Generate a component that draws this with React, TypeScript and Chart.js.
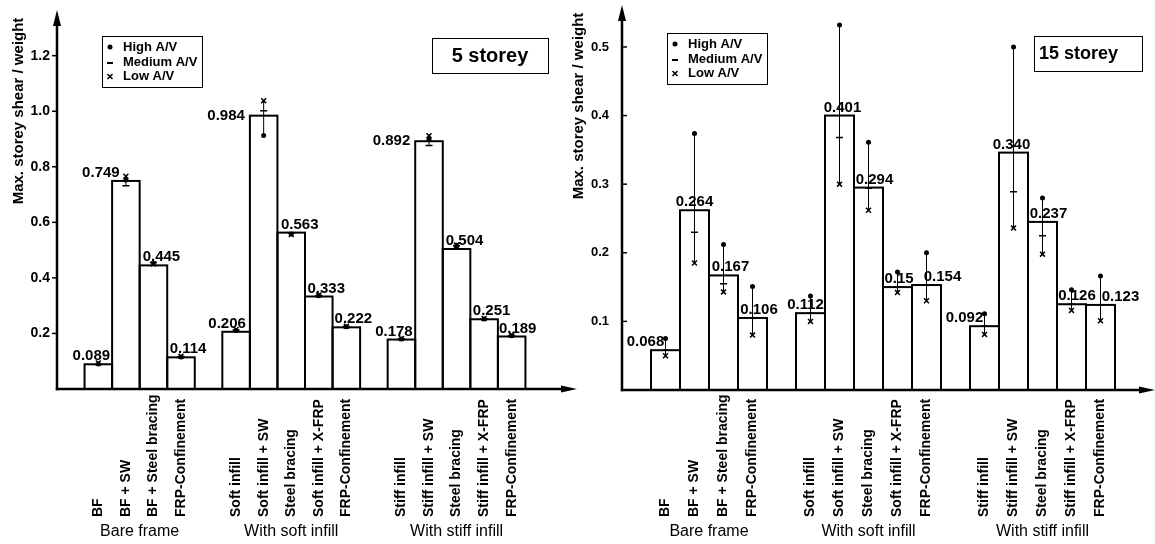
import React, { useEffect, useRef } from 'react';
import { Chart, registerables } from 'chart.js';

Chart.register(...registerables);
Chart.defaults.font.family = '"Liberation Sans", Arial, sans-serif';

// ---------- shared categories ----------
const GROUP_NAMES = ['Bare frame', 'With soft infill', 'With stiff infill'];
const CATEGORIES = [
  ['BF', 'BF + SW', 'BF + Steel bracing', 'FRP-Confinement'],
  ['Soft infill', 'Soft infill + SW', 'Steel bracing', 'Soft infill + X-FRP', 'FRP-Confinement'],
  ['Stiff infill', 'Stiff infill + SW', 'Steel bracing', 'Stiff infill + X-FRP', 'FRP-Confinement'],
];
const LEGEND_ITEMS = ['High A/V', 'Medium A/V', 'Low A/V'];
const Y_TITLE = 'Max. storey shear / weight';

// ---------- 5 storey ----------
const SHEAR_5 = [0.089, 0.749, 0.445, 0.114, 0.206, 0.984, 0.563, 0.333, 0.222, 0.178, 0.892, 0.504, 0.251, 0.189];
const TEXT_5 = ['0.089', '0.749', '0.445', '0.114', '0.206', '0.984', '0.563', '0.333', '0.222', '0.178', '0.892', '0.504', '0.251', '0.189'];
const HIGH_5 = [0.090, 0.752, 0.452, 0.115, 0.211, 0.913, 0.558, 0.336, 0.224, 0.180, 0.898, 0.515, 0.252, 0.192];
const MEDIUM_5 = [0.088, 0.732, 0.455, 0.117, 0.212, 1.002, 0.561, 0.337, 0.225, 0.181, 0.877, 0.516, 0.253, 0.193];
const LOW_5 = [0.094, 0.766, 0.450, 0.118, 0.214, 1.038, 0.556, 0.338, 0.226, 0.182, 0.912, 0.518, 0.254, 0.194];
const TICKS_5 = [0.2, 0.4, 0.6, 0.8, 1.0, 1.2];

// ---------- 15 storey ----------
const SHEAR_15 = [0.058, 0.262, 0.167, 0.105, 0.112, 0.400, 0.295, 0.150, 0.153, 0.093, 0.346, 0.245, 0.125, 0.124];
const TEXT_15 = ['0.068', '0.264', '0.167', '0.106', '0.112', '0.401', '0.294', '0.15', '0.154', '0.092', '0.340', '0.237', '0.126', '0.123'];
const HIGH_15 = [0.075, 0.374, 0.212, 0.151, 0.137, 0.532, 0.361, 0.172, 0.200, 0.111, 0.500, 0.280, 0.146, 0.166];
const MEDIUM_15 = [0.058, 0.230, 0.155, 0.105, 0.112, 0.368, 0.294, 0.150, 0.153, 0.093, 0.289, 0.225, 0.125, 0.124];
const LOW_15 = [0.050, 0.185, 0.143, 0.080, 0.100, 0.300, 0.262, 0.142, 0.130, 0.081, 0.236, 0.198, 0.116, 0.101];
const TICKS_15 = [0.1, 0.2, 0.3, 0.4, 0.5];

// ---------- label placement (style) ----------
const LABEL_DX_5 = [-7, -25, 8, 7, -9, 0, 8.5, 7.5, 7, -7.5, 0, 8, 7.5, 6];
const LABEL_SIDE_5 = [5, 10];
const LABEL_DX_15 = [-20, 0, 7, 6.5, -5, 3, 6, 1.5, 16, -20, -2, 6, 5.5, 20];
const LABEL_SIDE_15: number[] = [];

function toSlots<T>(vals: T[], blank: T): T[] {
  const out: T[] = [blank];
  let k = 0;
  CATEGORIES.forEach((g) => {
    g.forEach(() => out.push(vals[k++]));
    out.push(blank);
  });
  return out;
}

function slotIndexOf(i: number): number {
  let k = 0;
  let s = 1;
  for (const g of CATEGORIES) {
    for (let j = 0; j < g.length; j++) {
      if (k === i) return s;
      k++;
      s++;
    }
    s++;
  }
  return -1;
}

type Spec = {
  values: number[];
  texts: string[];
  high: number[];
  medium: number[];
  low: number[];
  ticks: number[];
  yMax: number;
  labelDx: number[];
  labelSide: number[];
  axisWidth: number;
  padTop: number;
  padRight: number;
  xHeight: number;
  tickPad: number;
  tickFont: number;
  tickDir: number;
  arrowTop: number;
  arrowRight: number;
  storey: { text: string; x: number; y: number; w: number; h: number; font: number; align: 'center' | 'left' };
  legendY: number;
  titleY: number;
};

function makeDecor(spec: Spec) {
  const flatLabels = CATEGORIES.flat();
  return {
    id: 'decor',
    afterDatasetDraw(chart: any, args: any) {
      if (args.index !== 0) return;
      const ctx = chart.ctx;
      const ys = chart.scales.y;
      const meta = chart.getDatasetMeta(0);
      ctx.save();
      ctx.strokeStyle = '#000';
      ctx.lineWidth = 2;
      spec.values.forEach((_v, i) => {
        const el = meta.data[slotIndexOf(i)];
        const p = el.getProps(['x', 'y', 'base', 'width'], true);
        ctx.strokeRect(p.x - p.width / 2, p.y, p.width, p.base - p.y);
      });
      ctx.lineWidth = 1;
      spec.values.forEach((_v, i) => {
        const el = meta.data[slotIndexOf(i)];
        const vals = [spec.high[i], spec.medium[i], spec.low[i]];
        const lo = Math.min(...vals);
        const hi = Math.max(...vals);
        ctx.beginPath();
        ctx.moveTo(el.x, ys.getPixelForValue(lo));
        ctx.lineTo(el.x, ys.getPixelForValue(hi));
        ctx.stroke();
      });
      ctx.restore();
    },
    afterDraw(chart: any) {
      const ctx = chart.ctx;
      const a = chart.chartArea;
      const xs = chart.scales.x;
      const ys = chart.scales.y;
      const meta = chart.getDatasetMeta(0);
      const ax = a.left;
      const ay = a.bottom;
      ctx.save();
      ctx.fillStyle = '#000';
      ctx.strokeStyle = '#000';

      // axes with arrows
      ctx.lineWidth = 2.5;
      ctx.beginPath();
      ctx.moveTo(ax, ay + 1.2);
      ctx.lineTo(ax, spec.arrowTop + 12);
      ctx.stroke();
      ctx.beginPath();
      ctx.moveTo(ax, spec.arrowTop);
      ctx.lineTo(ax - 4, spec.arrowTop + 16);
      ctx.lineTo(ax + 4, spec.arrowTop + 16);
      ctx.closePath();
      ctx.fill();
      ctx.beginPath();
      ctx.moveTo(ax - 1.2, ay);
      ctx.lineTo(spec.arrowRight - 12, ay);
      ctx.stroke();
      ctx.beginPath();
      ctx.moveTo(spec.arrowRight, ay);
      ctx.lineTo(spec.arrowRight - 16, ay - 3.5);
      ctx.lineTo(spec.arrowRight - 16, ay + 3.5);
      ctx.closePath();
      ctx.fill();

      // y ticks
      ctx.lineWidth = 1.5;
      spec.ticks.forEach((t) => {
        const py = ys.getPixelForValue(t);
        ctx.beginPath();
        ctx.moveTo(ax, py);
        ctx.lineTo(ax + spec.tickDir * 5, py);
        ctx.stroke();
      });

      // y title
      ctx.save();
      ctx.translate(19, spec.titleY);
      ctx.rotate(-Math.PI / 2);
      ctx.font = 'bold 15px "Liberation Sans", Arial, sans-serif';
      ctx.textAlign = 'center';
      ctx.textBaseline = 'middle';
      ctx.fillText(Y_TITLE, 0, 0);
      ctx.restore();

      // category labels (vertical)
      ctx.font = 'bold 14px "Liberation Sans", Arial, sans-serif';
      flatLabels.forEach((lab, i) => {
        const px = xs.getPixelForValue(slotIndexOf(i));
        ctx.save();
        ctx.translate(px, 517);
        ctx.rotate(-Math.PI / 2);
        ctx.textAlign = 'left';
        ctx.textBaseline = 'middle';
        ctx.fillText(lab, 0, 0);
        ctx.restore();
      });

      // group labels
      ctx.font = '16px "Liberation Sans", Arial, sans-serif';
      ctx.textAlign = 'center';
      ctx.textBaseline = 'alphabetic';
      let k = 0;
      CATEGORIES.forEach((g, gi) => {
        const x0 = xs.getPixelForValue(slotIndexOf(k));
        const x1 = xs.getPixelForValue(slotIndexOf(k + g.length - 1));
        ctx.fillText(GROUP_NAMES[gi], (x0 + x1) / 2, 536);
        k += g.length;
      });

      // value labels
      ctx.font = 'bold 15px "Liberation Sans", Arial, sans-serif';
      spec.values.forEach((_v, i) => {
        const el = meta.data[slotIndexOf(i)];
        const p = el.getProps(['x', 'y', 'width'], true);
        if (spec.labelSide.includes(i)) {
          ctx.textAlign = 'right';
          ctx.textBaseline = 'middle';
          ctx.fillText(spec.texts[i], p.x - p.width / 2 - 5, p.y);
        } else {
          ctx.textAlign = 'center';
          ctx.textBaseline = 'alphabetic';
          ctx.fillText(spec.texts[i], p.x + spec.labelDx[i], p.y - 4);
        }
      });

      // legend box
      const bx = ax + 45;
      const by = spec.legendY;
      ctx.lineWidth = 1;
      ctx.strokeRect(bx + 0.5, by + 0.5, 100, 51);
      const rows = [by + 11, by + 26, by + 40.5];
      ctx.font = 'bold 13px "Liberation Sans", Arial, sans-serif';
      ctx.textAlign = 'left';
      ctx.textBaseline = 'middle';
      LEGEND_ITEMS.forEach((item, r) => {
        ctx.fillText(item, bx + 21, rows[r]);
      });
      const sx = bx + 8;
      ctx.beginPath();
      ctx.arc(sx, rows[0], 2.5, 0, Math.PI * 2);
      ctx.fill();
      ctx.lineWidth = 2;
      ctx.beginPath();
      ctx.moveTo(sx - 3, rows[1] + 1);
      ctx.lineTo(sx + 3, rows[1] + 1);
      ctx.stroke();
      ctx.lineWidth = 1.5;
      ctx.beginPath();
      ctx.moveTo(sx - 2.5, rows[2] - 2.5);
      ctx.lineTo(sx + 2.5, rows[2] + 2.5);
      ctx.moveTo(sx + 2.5, rows[2] - 2.5);
      ctx.lineTo(sx - 2.5, rows[2] + 2.5);
      ctx.stroke();

      // storey box
      const st = spec.storey;
      ctx.lineWidth = 1;
      ctx.strokeRect(st.x + 0.5, st.y + 0.5, st.w, st.h);
      ctx.font = `bold ${st.font}px "Liberation Sans", Arial, sans-serif`;
      ctx.textBaseline = 'middle';
      if (st.align === 'center') {
        ctx.textAlign = 'center';
        ctx.fillText(st.text, st.x + st.w / 2, st.y + st.h / 2 + 1);
      } else {
        ctx.textAlign = 'left';
        ctx.fillText(st.text, st.x + 5, st.y + st.h / 2 + 1);
      }
      ctx.restore();
    },
  };
}

function buildConfig(spec: Spec): any {
  const slotLabels = toSlots(CATEGORIES.flat(), '');
  return {
    type: 'bar',
    data: {
      labels: slotLabels,
      datasets: [
        {
          type: 'bar',
          data: toSlots<number | null>(spec.values, null),
          backgroundColor: '#ffffff',
          borderWidth: 0,
          barPercentage: 1,
          categoryPercentage: 1,
          order: 10,
        },
        {
          type: 'line',
          data: toSlots<number | null>(spec.high, null),
          showLine: false,
          pointStyle: 'circle',
          pointRadius: 2.5,
          pointBackgroundColor: '#000',
          pointBorderColor: '#000',
          pointBorderWidth: 0,
          order: 1,
        },
        {
          type: 'line',
          data: toSlots<number | null>(spec.medium, null),
          showLine: false,
          pointStyle: 'line',
          pointRadius: 3.5,
          pointBorderColor: '#000',
          pointBorderWidth: 1.5,
          order: 1,
        },
        {
          type: 'line',
          data: toSlots<number | null>(spec.low, null),
          showLine: false,
          pointStyle: 'crossRot',
          pointRadius: 3.5,
          pointBorderColor: '#000',
          pointBorderWidth: 1.5,
          order: 1,
        },
      ],
    },
    options: {
      responsive: false,
      animation: false,
      devicePixelRatio: 1,
      layout: { padding: { left: 0, top: spec.padTop, right: spec.padRight, bottom: 0 } },
      plugins: { legend: { display: false }, tooltip: { enabled: false } },
      scales: {
        x: {
          type: 'category',
          offset: true,
          grid: { display: false, drawTicks: false },
          border: { display: false },
          ticks: { display: false },
          afterFit: (s: any) => {
            s.height = spec.xHeight;
          },
        },
        y: {
          type: 'linear',
          min: 0,
          max: spec.yMax,
          grid: { display: false, drawTicks: false },
          border: { display: false },
          afterBuildTicks: (s: any) => {
            s.ticks = spec.ticks.map((value) => ({ value }));
          },
          ticks: {
            padding: spec.tickPad,
            color: '#000',
            font: { size: spec.tickFont, weight: 'bold', lineHeight: 1 },
            callback: (v: any) => Number(v).toFixed(1),
          },
          afterFit: (s: any) => {
            s.width = spec.axisWidth;
          },
        },
      },
    },
    plugins: [makeDecor(spec)],
  };
}

const SPEC_5: Spec = {
  values: SHEAR_5,
  texts: TEXT_5,
  high: HIGH_5,
  medium: MEDIUM_5,
  low: LOW_5,
  ticks: TICKS_5,
  yMax: 1.35,
  labelDx: LABEL_DX_5,
  labelSide: LABEL_SIDE_5,
  axisWidth: 57,
  padTop: 11,
  padRight: 27,
  xHeight: 155,
  tickPad: 7,
  tickFont: 14,
  tickDir: -1,
  arrowTop: 10,
  arrowRight: 577,
  storey: { text: '5 storey', x: 432, y: 38, w: 116, h: 35, font: 20, align: 'center' },
  legendY: 36,
  titleY: 111,
};

const SPEC_15: Spec = {
  values: SHEAR_15,
  texts: TEXT_15,
  high: HIGH_15,
  medium: MEDIUM_15,
  low: LOW_15,
  ticks: TICKS_15,
  yMax: 0.54,
  labelDx: LABEL_DX_15,
  labelSide: LABEL_SIDE_15,
  axisWidth: 62,
  padTop: 8,
  padRight: 11,
  xHeight: 154,
  tickPad: 13,
  tickFont: 13,
  tickDir: 1,
  arrowTop: 5,
  arrowRight: 595,
  storey: { text: '15 storey', x: 474, y: 36, w: 108, h: 35, font: 18, align: 'left' },
  legendY: 33,
  titleY: 106,
};

function ChartCanvas({ spec, left, width }: { spec: Spec; left: number; width: number }) {
  const ref = useRef<HTMLCanvasElement>(null);
  useEffect(() => {
    const chart = new Chart(ref.current as HTMLCanvasElement, buildConfig(spec));
    return () => chart.destroy();
  }, [spec]);
  return (
    <canvas
      ref={ref}
      width={width}
      height={544}
      style={{ position: 'absolute', left, top: 0, width, height: 544 }}
    />
  );
}

export default function App() {
  return (
    <div style={{ position: 'fixed', left: 0, top: 0, width: 1155, height: 544, background: '#fff', overflow: 'hidden' }}>
      <ChartCanvas spec={SPEC_5} left={0} width={580} />
      <ChartCanvas spec={SPEC_15} left={560} width={595} />
    </div>
  );
}
